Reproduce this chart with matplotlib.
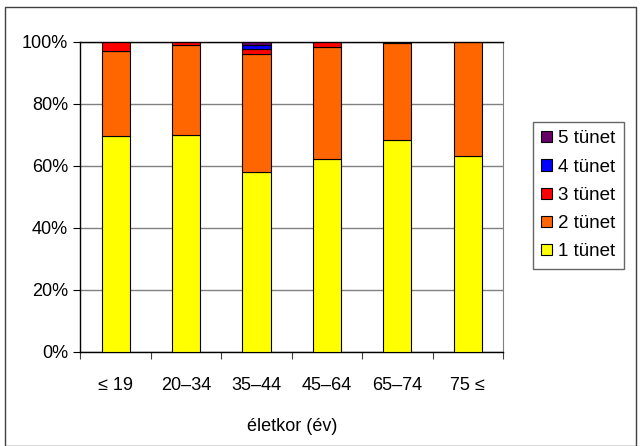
import matplotlib
matplotlib.use("Agg")
import matplotlib.pyplot as plt
import numpy as np
from matplotlib.patches import Rectangle, Patch

plt.rcParams['font.family'] = ['Liberation Sans', 'DejaVu Sans']

categories = ['≤ 19', '20–34', '35–44', '45–64', '65–74', '75 ≤']
t1 = [69.7, 70.0, 58.0, 62.1, 68.3, 63.2]
t2 = [27.3, 29.0, 38.0, 36.2, 31.3, 36.8]
t3 = [3.0, 1.0, 1.8, 1.7, 0.4, 0.0]
t4 = [0.0, 0.0, 1.2, 0.0, 0.0, 0.0]
t5 = [0.0, 0.0, 1.0, 0.0, 0.0, 0.0]
series_names = ['1 tünet', '2 tünet', '3 tünet', '4 tünet', '5 tünet']
colors = ['#FFFF00', '#FF6600', '#FF0000', '#0000FF', '#660066']
yticks = [0, 20, 40, 60, 80, 100]
ytick_labels = ['0%', '20%', '40%', '60%', '80%', '100%']
xlabel = 'életkor (év)'

FS = 13
W, H = 641, 446
fig = plt.figure(figsize=(W / 100, H / 100), dpi=100)
fig.patches.append(Rectangle((5 / W, 0), (636 - 5) / W, (446 - 7) / H,
                             transform=fig.transFigure, fill=False,
                             edgecolor='#404040', linewidth=1.0))

ax = fig.add_axes([80.5 / W, (H - 352) / H, (503 - 80.5) / W, (352 - 41.7) / H])
x = np.arange(len(categories))
bottom = np.zeros(len(categories))
data = [t1, t2, t3, t4, t5]
for vals, c, name in zip(data, colors, series_names):
    v = np.array(vals)
    ax.bar(x, v, 0.4, bottom=bottom, color=c, edgecolor='black', linewidth=0.8,
           label=name, zorder=3)
    bottom += v

ax.set_xlim(-0.5, len(categories) - 0.5)
ax.set_ylim(0, 100)
ax.set_yticks(yticks)
ax.set_yticklabels(ytick_labels, fontsize=FS)
ax.yaxis.grid(True, color='#808080', linewidth=1.0, zorder=0)
ax.set_xticks(np.arange(len(categories) + 1) - 0.5)
ax.set_xticklabels([])
ax.set_xticks(x, minor=True)
ax.set_xticklabels(categories, minor=True, fontsize=FS)
ax.tick_params(axis='x', which='major', direction='out', length=5, width=0.8, color='#404040')
ax.tick_params(axis='x', which='minor', length=0, pad=18)
ax.tick_params(axis='y', direction='out', length=5, width=0.8, pad=4)
ax.set_xlabel(xlabel, fontsize=FS, labelpad=17)
for s in ['left', 'bottom', 'top']:
    ax.spines[s].set_color('black')
    ax.spines[s].set_linewidth(1.0)
ax.spines['right'].set_color('#808080')

handles = [Patch(facecolor=c, edgecolor='black', linewidth=0.8) for c in colors][::-1]
labels = series_names[::-1]
leg = fig.legend(handles, labels, loc='upper left', bbox_to_anchor=(533 / W, 1 - 122 / H),
                 fontsize=13.5, frameon=True, fancybox=False, edgecolor='#404040',
                 handlelength=0.55, handleheight=0.55, handletextpad=0.35,
                 labelspacing=0.6, borderpad=0.45, borderaxespad=0)
leg.get_frame().set_linewidth(1.0)

fig.savefig('out.png', dpi=100)
